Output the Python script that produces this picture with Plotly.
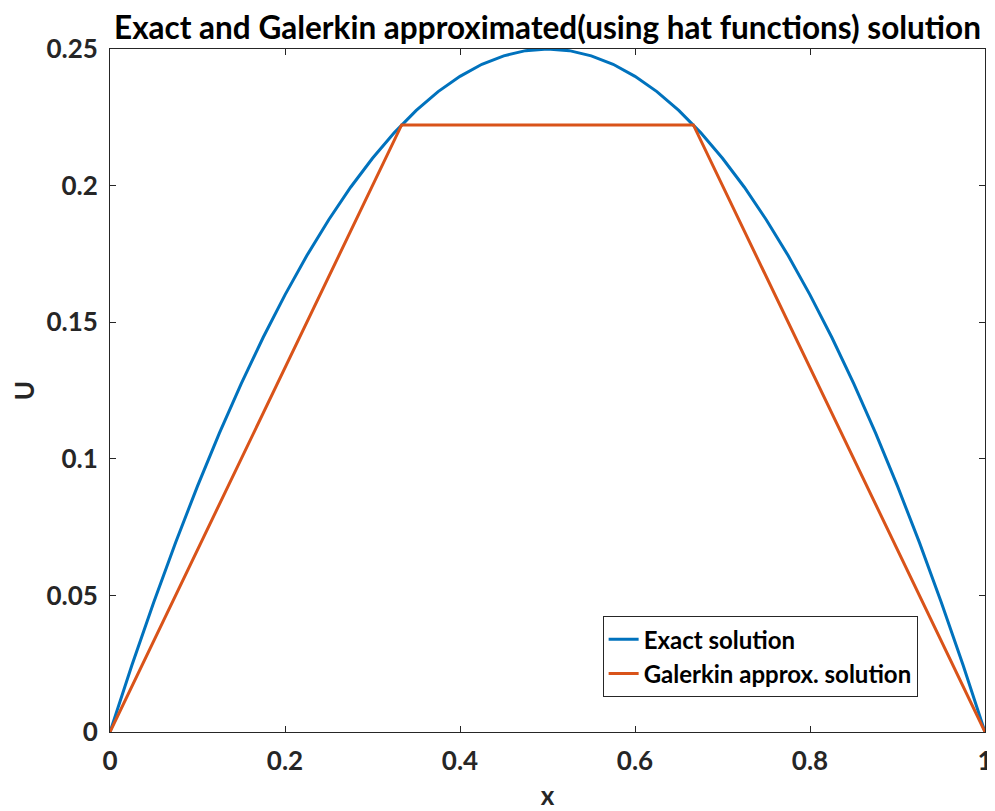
import plotly.graph_objects as go

# exact solution
x_exact = [0.0, 0.025, 0.05, 0.075, 0.1, 0.125, 0.15, 0.175, 0.2, 0.225, 0.25,
           0.275, 0.3, 0.325, 0.35, 0.375, 0.4, 0.425, 0.45, 0.475, 0.5,
           0.525, 0.55, 0.575, 0.6, 0.625, 0.65, 0.675, 0.7, 0.725, 0.75,
           0.775, 0.8, 0.825, 0.85, 0.875, 0.9, 0.925, 0.95, 0.975, 1.0]
u_exact = [0.0, 0.0244, 0.0475, 0.0694, 0.09, 0.1094, 0.1275, 0.1444, 0.16, 0.1744, 0.1875,
           0.1994, 0.21, 0.2194, 0.2275, 0.2344, 0.24, 0.2444, 0.2475, 0.2494, 0.25,
           0.2494, 0.2475, 0.2444, 0.24, 0.2344, 0.2275, 0.2194, 0.21, 0.1994, 0.1875,
           0.1744, 0.16, 0.1444, 0.1275, 0.1094, 0.09, 0.0694, 0.0475, 0.0244, 0.0]

# Galerkin approximation with hat functions (nodes)
x_gal = [0.0, 0.3333, 0.6667, 1.0]
u_gal = [0.0, 0.2222, 0.2222, 0.0]

x_ticks = [0, 0.2, 0.4, 0.6, 0.8, 1]
x_ticklabels = ["0", "0.2", "0.4", "0.6", "0.8", "1"]
y_ticks = [0, 0.05, 0.1, 0.15, 0.2, 0.25]
y_ticklabels = ["0", "0.05", "0.1", "0.15", "0.2", "0.25"]

FONT = "Lato"
INK = "#262626"

fig = go.Figure()
fig.add_trace(go.Scatter(x=x_exact, y=u_exact, mode="lines", name="<b>Exact solution</b>",
                         line=dict(color="#0072BD", width=3)))
fig.add_trace(go.Scatter(x=x_gal, y=u_gal, mode="lines", name="<b>Galerkin approx. solution</b>",
                         line=dict(color="#D95319", width=3)))

axis_common = dict(showgrid=False, zeroline=False, showline=True, linecolor=INK, linewidth=1,
                   mirror="ticks", ticks="inside", ticklen=6, tickcolor=INK, automargin=False,
                   tickfont=dict(family=FONT, size=26, color=INK, weight="bold"))

fig.update_xaxes(range=[0, 1], tickvals=x_ticks, ticktext=x_ticklabels, ticklabelstandoff=6,
                 title=dict(text="<b>x</b>", font=dict(family=FONT, size=26, color=INK), standoff=11),
                 **axis_common)
fig.update_yaxes(range=[0, 0.25], tickvals=y_ticks, ticktext=y_ticklabels, ticklabelstandoff=6,
                 title=dict(text="<b>U</b>", font=dict(family=FONT, size=26, color=INK), standoff=12),
                 **axis_common)

# page body adds an 8px offset, so the figure is a bit smaller than the window
fig.update_layout(
    width=987, height=803,
    margin=dict(l=102, r=10, t=41, b=79),
    plot_bgcolor="white", paper_bgcolor="white",
    title=dict(text="<b>Exact and Galerkin approximated(using hat functions) solution</b>",
               x=0.5, xref="paper", xanchor="center", y=0.975, yanchor="middle",
               font=dict(family=FONT, size=31.5, color="black")),
    legend=dict(x=0.923, y=0.051, xanchor="right", yanchor="bottom",
                bgcolor="white", bordercolor=INK, borderwidth=1,
                font=dict(family=FONT, size=24, color="black"),
                tracegroupgap=0),
    showlegend=True,
)

fig.write_html("out.html")
